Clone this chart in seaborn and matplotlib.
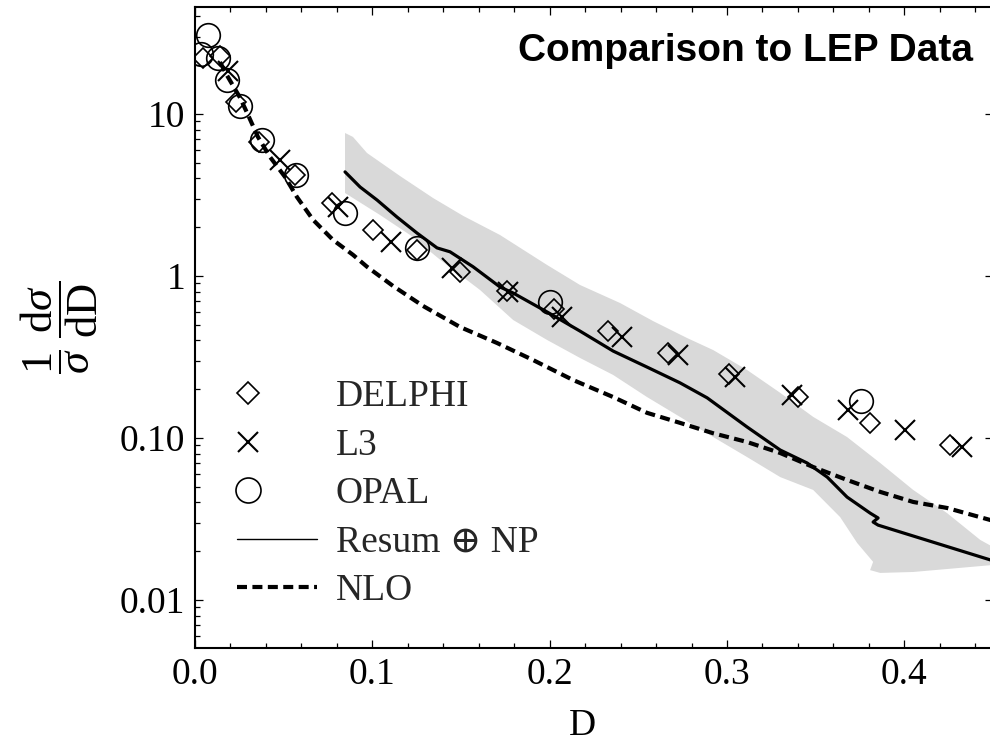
import numpy as np
import matplotlib
matplotlib.use("Agg")
import matplotlib.pyplot as plt
import seaborn as sns
from matplotlib.lines import Line2D
from matplotlib.legend_handler import HandlerLine2DCompound
from matplotlib.ticker import FixedLocator, MultipleLocator, LogLocator, NullFormatter

# ---------------- data ----------------
delphi_x = [0.0045, 0.0141, 0.0231, 0.0361, 0.0564, 0.0773, 0.1004, 0.1252, 0.1495,
            0.176, 0.2025, 0.233, 0.2668, 0.301, 0.340, 0.3807, 0.4258]
delphi_y = [22.0, 22.8, 11.9, 6.7, 4.2, 2.82, 1.92, 1.45, 1.06,
            0.81, 0.625, 0.457, 0.335, 0.248, 0.179, 0.124, 0.0905]

l3_x = [0.0185, 0.048, 0.0807, 0.1105, 0.145, 0.1765, 0.207, 0.2408, 0.2724,
        0.3046, 0.3367, 0.3683, 0.4005, 0.4326]
l3_y = [18.3, 5.2, 2.67, 1.62, 1.12, 0.80, 0.558, 0.42, 0.325,
        0.238, 0.184, 0.149, 0.112, 0.088]

opal_x = [0.0035, 0.0075, 0.013, 0.018, 0.0254, 0.0378, 0.057, 0.0846, 0.125, 0.2002, 0.3756]
opal_y = [23.3, 30.7, 22.2, 16.2, 11.2, 6.9, 4.2, 2.45, 1.49, 0.69, 0.17]

resum_x = [0.0846, 0.0931, 0.1027, 0.1139, 0.1252, 0.1365, 0.1438, 0.1568, 0.172,
           0.1794, 0.1985, 0.2171, 0.2358, 0.2549, 0.2735, 0.2888, 0.3113, 0.33,
           0.3452, 0.3565, 0.3677, 0.3807, 0.3852, 0.3824, 0.3852, 0.4484, 0.452]
resum_y = [4.39, 3.54, 2.94, 2.31, 1.84, 1.49, 1.41, 1.14, 0.855,
           0.785, 0.60, 0.457, 0.344, 0.274, 0.219, 0.177, 0.117, 0.0843,
           0.0701, 0.0574, 0.0432, 0.0344, 0.0321, 0.0303, 0.029, 0.0177, 0.0172]

nlo_x = [0.0141, 0.0175, 0.0254, 0.0299, 0.0355, 0.0423, 0.0508, 0.0575, 0.0666,
         0.0778, 0.0891, 0.097, 0.1117, 0.1286, 0.1495, 0.1703, 0.1906, 0.2132,
         0.2358, 0.2549, 0.2735, 0.2922, 0.3113, 0.33, 0.3486, 0.3677, 0.3864,
         0.405, 0.4241, 0.4484, 0.452]
nlo_y = [20.9, 17.7, 12.6, 9.86, 7.21, 5.43, 4.08, 3.07, 2.22,
         1.67, 1.35, 1.14, 0.867, 0.653, 0.484, 0.386, 0.303, 0.228,
         0.179, 0.143, 0.124, 0.107, 0.0945, 0.0808, 0.0662, 0.0551, 0.0465,
         0.0403, 0.037, 0.0312, 0.0305]

band_up_x = [0.0846, 0.0891, 0.097, 0.1156, 0.1342, 0.1512, 0.172, 0.1985, 0.2171,
             0.2397, 0.2583, 0.2775, 0.2922, 0.3113, 0.33, 0.3486, 0.3677, 0.3864,
             0.405, 0.4241, 0.4428, 0.4512]
band_up_y = [7.63, 7.21, 5.74, 4.14, 3.03, 2.35, 1.79, 1.17, 0.88,
             0.681, 0.527, 0.414, 0.349, 0.263, 0.19, 0.135, 0.1014, 0.0701,
             0.0478, 0.0344, 0.0235, 0.0209]
band_lo_x = [0.0846, 0.1043, 0.1213, 0.1382, 0.1607, 0.1794, 0.1985, 0.2171, 0.2358,
             0.2549, 0.2735, 0.2922, 0.3113, 0.33, 0.3486, 0.3638, 0.3734, 0.3824,
             0.3807, 0.3864, 0.405, 0.4484, 0.4512]
band_lo_y = [3.25, 2.38, 1.79, 1.26, 0.82, 0.535, 0.403, 0.312, 0.245,
             0.179, 0.135, 0.1014, 0.0763, 0.0574, 0.0478, 0.0325, 0.0225, 0.0172,
             0.0153, 0.0147, 0.0149, 0.0164, 0.0164]

x_ticks = [0.0, 0.1, 0.2, 0.3, 0.4]
x_tick_labels = ["0.0", "0.1", "0.2", "0.3", "0.4"]
y_ticks = [0.01, 0.1, 1, 10]
y_tick_labels = ["0.01", "0.10", "1", "10"]

# ---------------- style ----------------
sns.set_theme(style="ticks")
plt.rcParams["font.family"] = ["Liberation Serif", "DejaVu Serif"]
plt.rcParams["mathtext.fontset"] = "custom"
plt.rcParams["mathtext.rm"] = "Liberation Serif"
plt.rcParams["mathtext.it"] = "Liberation Serif:italic"
plt.rcParams["mathtext.bf"] = "Liberation Serif:bold"

FS = 27
W, H = 990, 749
fig = plt.figure(figsize=(W / 100, H / 100), dpi=100)
ax = fig.add_axes([195 / W, 101 / H, 798 / W, 641 / H])

# band
ax.fill(np.concatenate([band_up_x, band_lo_x[::-1]]),
        np.concatenate([band_up_y, band_lo_y[::-1]]),
        color="#d9d9d9", lw=0, zorder=1)

sns.lineplot(x=nlo_x, y=nlo_y, ax=ax, sort=False, estimator=None, color="black",
             linewidth=3.0, linestyle=(0, (2.4, 1.3)), zorder=3)
sns.lineplot(x=resum_x, y=resum_y, ax=ax, sort=False, estimator=None, color="black",
             linewidth=2.3, zorder=3)

mk = dict(linestyle="", markerfacecolor="none", markeredgecolor="black",
          color="black", sort=False, estimator=None, ax=ax, zorder=4)
sns.lineplot(x=delphi_x, y=delphi_y, marker="D", markersize=10, markeredgewidth=1.2, **mk)
sns.lineplot(x=l3_x, y=l3_y, marker="x", markersize=14, markeredgewidth=1.5, **mk)
sns.lineplot(x=opal_x, y=opal_y, marker="o", markersize=17, markeredgewidth=1.2, **mk)

ax.set_yscale("log")
ax.set_xlim(0, 0.45)
ax.set_ylim(10 ** -2.296, 10 ** 1.66)

ax.xaxis.set_major_locator(FixedLocator(x_ticks))
ax.set_xticklabels(x_tick_labels)
ax.xaxis.set_minor_locator(MultipleLocator(0.02))
ax.yaxis.set_major_locator(FixedLocator(y_ticks))
ax.set_yticklabels(y_tick_labels)
ax.yaxis.set_minor_locator(LogLocator(base=10, subs=np.arange(2, 10)))
ax.yaxis.set_minor_formatter(NullFormatter())

for s in ax.spines.values():
    s.set_visible(True)
    s.set_linewidth(1.5)
    s.set_color("black")
ax.tick_params(which="both", direction="in", top=True, right=True, colors="black",
               labelsize=FS, width=0.9)
ax.tick_params(which="major", length=6, pad=7)
ax.tick_params(which="minor", length=3.5)
ax.tick_params(axis="y", which="minor", right=False)
ax.grid(False)

ax.set_xlabel("D", fontsize=FS, color="black")
ax.xaxis.set_label_coords(0.485, -0.095)
ax.set_ylabel(r"$\dfrac{1}{\sigma}\;\dfrac{\mathrm{d}\sigma}{\mathrm{dD}}$",
              fontsize=32, color="black")
ax.yaxis.set_label_coords(-0.119, 0.5)

fig.text(973 / W, 1 - 61 / H, "Comparison to LEP Data", ha="right", va="baseline",
         fontsize=28, fontweight="bold", family=["Liberation Sans", "DejaVu Sans"],
         color="black")


class LeftMarkerHandler(HandlerLine2DCompound):
    def get_xdata(self, legend, xdescent, ydescent, width, height, fontsize):
        xdata, _ = super().get_xdata(legend, xdescent, ydescent, width, height, fontsize)
        return xdata, np.array([-xdescent + 0.14 * width])


handles = [
    Line2D([], [], linestyle="", marker="D", markersize=11, markerfacecolor="none",
           markeredgecolor="black", markeredgewidth=1.2),
    Line2D([], [], linestyle="", marker="x", markersize=14, markeredgecolor="black",
           markeredgewidth=1.5),
    Line2D([], [], linestyle="", marker="o", markersize=18, markerfacecolor="none",
           markeredgecolor="black", markeredgewidth=1.2),
    Line2D([], [], color="black", linewidth=1.0),
    Line2D([], [], color="black", linewidth=3.0, linestyle=(0, (2.4, 1.3))),
]
labels = ["DELPHI", "L3", "OPAL", "Resum \u2295 NP", "NLO"]
hm = {h: LeftMarkerHandler() for h in handles[:3]}
leg = ax.legend(handles, labels, handler_map=hm, loc="upper left",
                bbox_to_anchor=(237 / W, 1 - 380 / H), bbox_transform=fig.transFigure,
                frameon=False, borderpad=0, borderaxespad=0, fontsize=FS,
                handlelength=2.13, handletextpad=0.5, labelspacing=0.37, numpoints=1)

fig.savefig("out.png", dpi=100)
